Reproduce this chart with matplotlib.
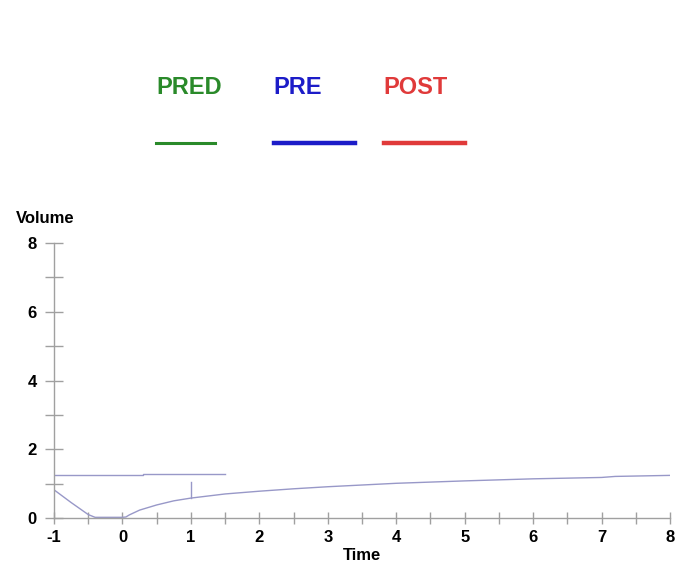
import matplotlib.pyplot as plt
from matplotlib.lines import Line2D

plt.rcParams['font.family'] = ['Liberation Sans', 'DejaVu Sans']
plt.rcParams['axes.unicode_minus'] = False

# volume curve
curve_t = [-1, -0.75, -0.5, -0.4, 0, 0.05, 0.1, 0.25, 0.5, 0.75, 1, 1.5, 2, 2.5, 3, 4, 5, 6, 7, 7.2, 8]
curve_v = [0.82, 0.45, 0.1, 0.02, 0.02, 0.03, 0.09, 0.23, 0.38, 0.5, 0.58, 0.7, 0.78, 0.85, 0.91, 1.01, 1.08, 1.14, 1.18, 1.21, 1.24]

# short level line
level_t = [-1, 0.3, 0.3, 1.5]
level_v = [1.24, 1.24, 1.29, 1.29]

# marker at t=1
mark_t = [1, 1]
mark_v = [0.58, 1.06]

legend_names = ['PRED', 'PRE', 'POST']
legend_colors = ['#2a8a2a', '#1c1cc8', '#e03a3a']
legend_x = [0.231, 0.404, 0.567]
legend_len = [0.086, 0.120, 0.120]
legend_lw = [2.2, 3.2, 3.2]

line_color = '#9898c8'
axis_color = '#a0a0a0'

fig = plt.figure(figsize=(6.77, 5.63), dpi=100)
ax = fig.add_axes([0.0798, 0.0799, 0.9099, 0.4885])

ax.plot(curve_t, curve_v, color=line_color, lw=1)
ax.plot(level_t, level_v, color=line_color, lw=1)
ax.plot(mark_t, mark_v, color=line_color, lw=1)

ax.set_xlim(-1, 8)
ax.set_ylim(0, 8)
ax.set_xticks(range(-1, 9))
ax.set_xticks([x + 0.5 for x in range(-1, 8)], minor=True)
ax.set_yticks([0, 2, 4, 6, 8])
ax.set_yticks([1, 3, 5, 7], minor=True)

for s in ['top', 'right']:
    ax.spines[s].set_visible(False)
for s in ['left', 'bottom']:
    ax.spines[s].set_color(axis_color)
    ax.spines[s].set_linewidth(1)

ax.tick_params(axis='x', which='both', direction='inout', length=9, color=axis_color, width=1, pad=4)
ax.tick_params(axis='y', which='both', direction='inout', length=13, color=axis_color, width=1, pad=6)
ax.tick_params(labelsize=12)
for lab in ax.get_xticklabels() + ax.get_yticklabels():
    lab.set_fontweight('bold')

ax.set_xlabel('Time', fontsize=12, fontweight='bold', labelpad=2)
ax.set_ylabel('Volume', fontsize=12, fontweight='bold', rotation=0)
ax.yaxis.set_label_coords(-0.015, 1.06)

for name, col, x0, ln, lw in zip(legend_names, legend_colors, legend_x, legend_len, legend_lw):
    fig.text(x0, 0.8437, name, color=col, fontsize=17, fontweight='bold', va='center', ha='left')
    fig.add_artist(Line2D([x0, x0 + ln], [0.746, 0.746], color=col, lw=lw, transform=fig.transFigure))

fig.savefig('out.png', dpi=100)
